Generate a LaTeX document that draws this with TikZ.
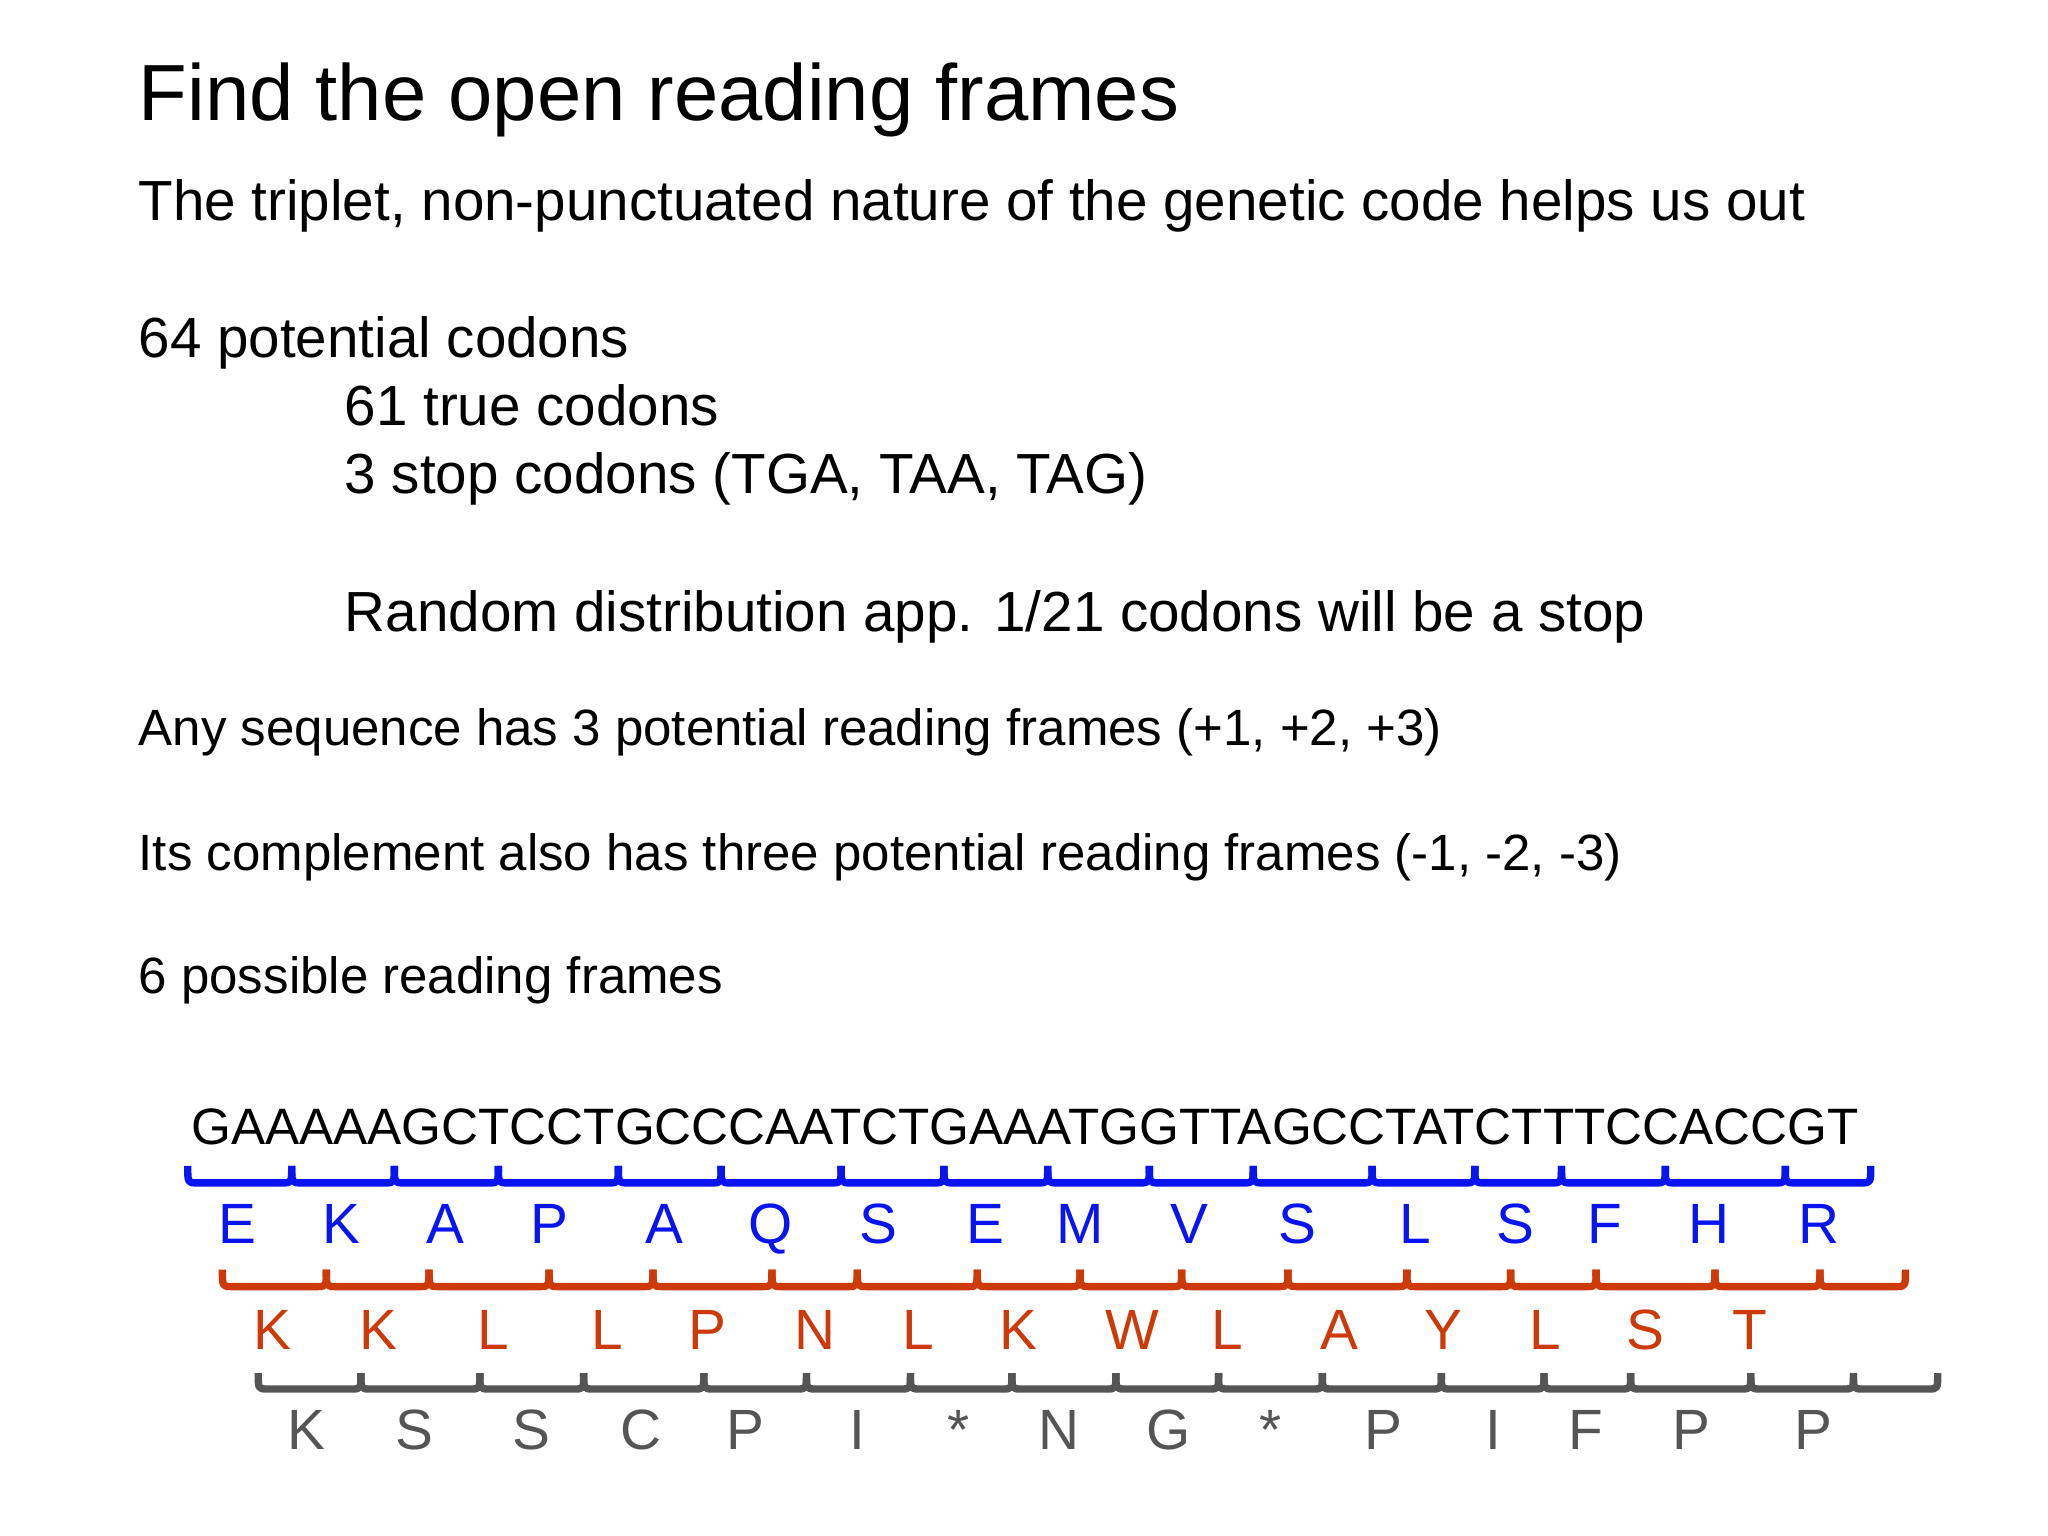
\documentclass[tikz,border=0pt]{standalone}
\usepackage{fontspec}
\setmainfont{Liberation Sans}
\definecolor{fb}{HTML}{0A14F0}
\definecolor{fr}{HTML}{CC3A0A}
\definecolor{fg}{HTML}{555555}
\begin{document}
\begin{tikzpicture}[x=0.01cm,y=-0.01cm,
  t/.style={anchor=base west,inner sep=0pt},
  aa/.style={anchor=base,inner sep=0pt,font=\fontsize{12.3}{14}\selectfont},
  br/.style={line width=1.6pt,line join=round}]
\useasboundingbox (0,0) rectangle (1560,1170);
\node[t,font=\fontsize{17.25}{20}\selectfont] (title) at (105,92) {Find the open reading frames};
\node[t,font=\fontsize{12.25}{14}\selectfont] (sub) at (105,168) {The triplet, non-punctuated nature of the genetic code helps us out};
\begin{scope}[every node/.style={t,font=\fontsize{12.25}{14}\selectfont}]
\node (l1) at (105,272) {64 potential codons};
\node (l2) at (262,324) {61 true codons};
\node (l3) at (262,376) {3 stop codons (TGA, TAA, TAG)};
\node (l4) at (262,481) {Random distribution app. 1/21 codons will be a stop};
\end{scope}
\begin{scope}[every node/.style={t,font=\fontsize{11.05}{13}\selectfont}]
\node (m1) at (105,568) {Any sequence has 3 potential reading frames (+1, +2, +3)};
\node (m2) at (105,663) {Its complement also has three potential reading frames (-1, -2, -3)};
\node (m3) at (105,757) {6 possible reading frames};
\end{scope}
\node[t] (seq) at (145,872) {\resizebox{1270\dimexpr0.01cm\relax}{!}{\fontsize{12.5}{14}\selectfont GAAAAAGCTCCTGCCCAATCTGAAATGGTTAGCCTATCTTTCCACCGT}};
% brackets
\def\brk#1#2#3#4{%
 \foreach \a/\b in {#4} {
  \draw[br,#1] (\a,#2) .. controls (\a,#3) .. (\a+7,#3) -- (\b-7,#3) .. controls (\b,#3) .. (\b,#2);
 }}
\brk{fb}{888}{901}{143/222.2,222.2/300.4,300.4/379.6,379.6/471,471/549.3,549.3/640.7,640.7/719,719/798.1,798.1/875.5,875.5/954.6,954.6/1045.2,1045.2/1123.4,1123.4/1189.4,1189.4/1268.5,1268.5/1359.9,1359.9/1425}
\brk{fr}{967}{980}{169.4/248.6,248.6/326.8,326.8/418.2,418.2/497.4,497.4/588,588/653,653/744.4,744.4/822.7,822.7/900.1,900.1/981,981/1071.6,1071.6/1150.7,1150.7/1215.8,1215.8/1306.3,1306.3/1386.3,1386.3/1451.4}
\brk{fg}{1046}{1058}{196.7/274.9,274.9/365.5,365.5/444.6,444.6/536.1,536.1/614.3,614.3/693.5,693.5/770.8,770.8/850,850/928.2,928.2/1007.3,1007.3/1097.9,1097.9/1176.1,1176.1/1242.1,1242.1/1333.6,1333.6/1411.8,1411.8/1476}
\foreach \x/\c [count=\i] in {180.8/E,260/K,339.1/A,418.2/P,506.2/A,587.1/Q,668.8/S,750.6/E,822.7/M,906.2/V,988/S,1077.7/L,1154.2/S,1222.8/F,1302/H,1385.5/R}
  \node[aa,text=fb] (b\i) at (\x,947) {\c};
\foreach \x/\c [count=\i] in {207.2/K,288.1/K,376/L,462.2/L,538.7/P,620.5/N,699.6/L,776.1/K,862.3/W,935.2/L,1020.5/A,1099.7/Y,1177/L,1253.6/S,1332.7/T}
  \node[aa,text=fr] (r\i) at (\x,1028) {\c};
\foreach \x/\c [count=\i] in {233.6/K,315.4/S,405.1/S,488.6/C,567.7/P,653/I,730.4/*,806.9/N,890.4/G,967.8/*,1054/P,1137.5/I,1207.8/F,1288.7/P,1381/P}
  \node[aa,text=fg] (g\i) at (\x,1104) {\c};
\end{tikzpicture}
\end{document}
